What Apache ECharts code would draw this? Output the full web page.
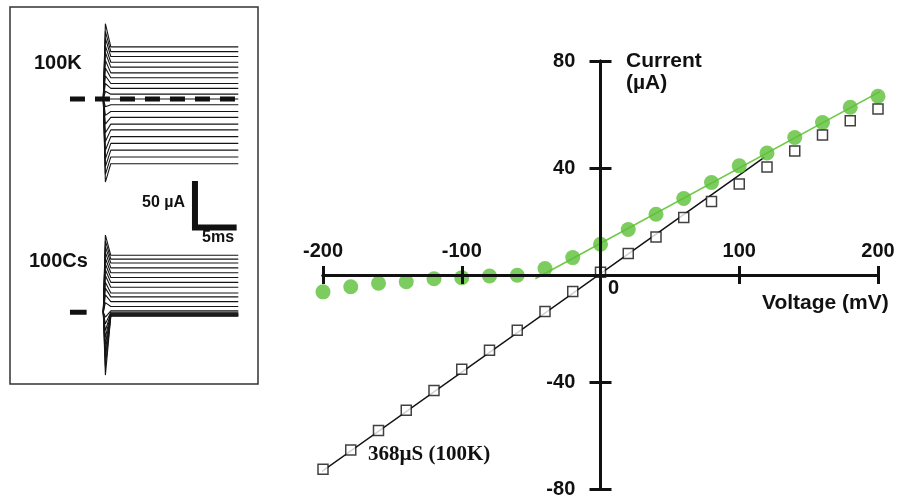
<!DOCTYPE html>
<html><head><meta charset="utf-8">
<script src="https://cdn.jsdelivr.net/npm/echarts@6/dist/echarts.min.js"></script>
<style>html,body{margin:0;padding:0;background:#fff}#c{width:919px;height:498px}</style>
</head><body><div id="c"></div>
<script>
// ---- I-V data (mV, uA) ----
const voltages = [-200,-180,-160,-140,-120,-100,-80,-60,-40,-20,0,20,40,60,80,100,120,140,160,180,200];
const currentK = [-72.6,-65.4,-58.1,-50.6,-43.2,-35.2,-28.1,-20.7,-13.6,-6.2,1.0,8.0,14.2,21.5,27.5,34.0,40.4,46.4,52.3,57.7,62.1];
const currentCs = [-6.3,-4.4,-3.1,-2.5,-1.4,-1.0,-0.4,-0.1,2.4,6.5,11.5,17.0,22.7,28.6,34.6,40.8,45.6,51.4,57.0,62.7,66.8];
// fit lines
const fitKVoltage = [-211, 118];
const fitKCurrent = [-77.2, 44.0];
const fitCsVoltage = [-47, 228];
const fitCsCurrent = [-1.4, 76.0];
// axis ticks and tick labels
const xTickValues = [-200, -100, 0, 100, 200];
const xTickLabels = ['-200', '-100', '100', '200'];
const yTickValues = [-80, -40, 0, 40, 80];
const yTickLabels = ['-80', '-40', '40', '80'];
// ---- inset current traces (ms, uA) ----
const traceTimes = [-0.2, 0.05, 0.7, 16];
const k100Levels = [54,49,44,38,33,27,22,16,11,5,0,-6,-13,-19,-26,-32,-39,-46,-53,-60,-67];
const k100Peaks  = [78,70,63,55,48,40,32,24,16,8,0,-8,-17,-26,-35,-44,-53,-62,-70,-78,-86];
const cs100Levels = [59,55,51,46,41,36,31,26,20,16,11,6,1.5,0,-1,-1.5,-2,-2.5,-3,-3.5,-4];
const cs100Peaks  = [80,74,68,62,56,50,44,38,31,25,18,10,-5,-12,-19,-26,-33,-40,-47,-56,-65];
const zeroLineTimes = [-4.2, 16];
const csMarkTimes = [-4.2, -2.2];
const scaleBarTimes = [10.8, 10.8, 15.8];
const scaleBarCurrents = [-85, -133, -133];

const zip = (a, b) => a.map((v, i) => [v, b[i]]);
const FONT = '"Liberation Sans", Arial, Helvetica, sans-serif';
const INK = '#111';

const mainAxisX = (pos) => ({
  gridIndex: 0, type: 'value', min: xTickValues[0], max: xTickValues[xTickValues.length-1],
  interval: xTickValues[1]-xTickValues[0], position: pos, z: 10,
  axisLine: {onZero: true, lineStyle: {color: INK, width: 3}},
  axisTick: {show: true, inside: false, length: 9, lineStyle: {color: INK, width: 3}},
  axisLabel: {show: false},
  splitLine: {show: false}
});
const mainAxisY = (pos) => ({
  gridIndex: 0, type: 'value', min: yTickValues[0], max: yTickValues[yTickValues.length-1],
  interval: yTickValues[1]-yTickValues[0], position: pos, z: 10,
  axisLine: {onZero: true, lineStyle: {color: INK, width: 3}},
  axisTick: {show: true, inside: false, length: 11, lineStyle: {color: INK, width: 3}},
  axisLabel: {show: false},
  splitLine: {show: false}
});
const labelStyle = {fontSize: 20, fontWeight: 'bold', fontFamily: FONT, color: INK, opacity: 1,
  textBorderWidth: 0, textShadowBlur: 0};

const series = [
  {type: 'line', xAxisIndex: 0, yAxisIndex: 0, data: zip(fitCsVoltage, fitCsCurrent), symbol: 'none', clip: false,
   lineStyle: {color: '#6fca47', width: 1.6}, z: 2, silent: true},
  {type: 'line', xAxisIndex: 0, yAxisIndex: 0, data: zip(fitKVoltage, fitKCurrent), symbol: 'none', clip: false,
   lineStyle: {color: INK, width: 1.5}, z: 3, silent: true},
  {type: 'scatter', xAxisIndex: 0, yAxisIndex: 0, data: zip(voltages, currentCs), symbol: 'circle', symbolSize: 15,
   itemStyle: {color: '#5cbf38'}, z: 4, clip: false},
  {type: 'scatter', xAxisIndex: 0, yAxisIndex: 0, data: zip(voltages, currentK), symbol: 'rect', symbolSize: 10,
   itemStyle: {color: '#fff', borderColor: INK, borderWidth: 1.5}, z: 5, clip: false},
  // tick labels of the crossing axes
  {type: 'scatter', xAxisIndex: 0, yAxisIndex: 0, silent: true, symbolSize: 0.5, itemStyle: {color: INK, opacity: 1}, z: 12,
   data: xTickLabels.map(s => ({value: [Number(s), 0], name: s})),
   label: Object.assign({show: true, position: 'top', distance: 13, formatter: p => p.name}, labelStyle)},
  {type: 'scatter', xAxisIndex: 0, yAxisIndex: 0, silent: true, symbolSize: 0.5, itemStyle: {color: INK, opacity: 1}, z: 12,
   data: yTickLabels.map(s => ({value: [0, Number(s)], name: s})),
   label: Object.assign({show: true, position: 'left', distance: 25, formatter: p => p.name}, labelStyle)}
];

const traceStyle = {color: '#151515', width: 1.1};
k100Levels.forEach((lv, i) => {
  series.push({type: 'line', xAxisIndex: 2, yAxisIndex: 2, symbol: 'none', silent: true, clip: false,
    data: [[traceTimes[0], 0], [traceTimes[1], k100Peaks[i]], [traceTimes[2], lv], [traceTimes[3], lv]],
    lineStyle: traceStyle});
});
cs100Levels.forEach((lv, i) => {
  series.push({type: 'line', xAxisIndex: 3, yAxisIndex: 3, symbol: 'none', silent: true, clip: false,
    data: [[traceTimes[0], 0], [traceTimes[1], cs100Peaks[i]], [traceTimes[2], lv], [traceTimes[3], lv]],
    lineStyle: traceStyle});
});
series.push({type: 'line', xAxisIndex: 2, yAxisIndex: 2, symbol: 'none', silent: true, clip: false,
  data: zeroLineTimes.map(t => [t, 0]), lineStyle: {color: INK, width: 5, type: [15, 10]}, z: 4});
series.push({type: 'line', xAxisIndex: 3, yAxisIndex: 3, symbol: 'none', silent: true, clip: false,
  data: csMarkTimes.map(t => [t, 0]), lineStyle: {color: INK, width: 5}, z: 4});
series.push({type: 'line', xAxisIndex: 2, yAxisIndex: 2, symbol: 'none', silent: true, clip: false,
  data: zip(scaleBarTimes, scaleBarCurrents), lineStyle: {color: INK, width: 6, join: 'miter', cap: 'butt'}, z: 4});

const txt = (text, x, y, size, extra) => ({type: 'text', x: x, y: y, z: 20,
  style: Object.assign({text: text, font: 'bold ' + size + 'px ' + FONT, fill: INK, verticalAlign: 'top'}, extra || {})});

const option = {
  animation: false,
  backgroundColor: '#fff',
  grid: [
    {left: 323, right: 41, top: 61, bottom: 9},
    {left: 68.3, top: 2.4, width: 170, height: 231.8},
    {left: 68.3, top: 215.7, width: 170, height: 193.2}
  ],
  xAxis: [
    mainAxisX('top'),
    mainAxisX('bottom'),
    {gridIndex: 1, type: 'value', min: -4.4, max: 16, show: false},
    {gridIndex: 2, type: 'value', min: -4.4, max: 16, show: false}
  ],
  yAxis: [
    mainAxisY('left'),
    mainAxisY('right'),
    {gridIndex: 1, type: 'value', min: -140, max: 100, show: false},
    {gridIndex: 2, type: 'value', min: -100, max: 100, show: false}
  ],
  series: series,
  graphic: [
    {type: 'rect', shape: {x: 10, y: 7, width: 248, height: 377}, style: {fill: 'none', stroke: '#333', lineWidth: 1.5}, z: 20},
    txt('100K', 34, 53, 20),
    txt('100Cs', 29, 251, 20),
    txt('50 \u00b5A', 142, 195, 16),
    txt('5ms', 202, 230, 16),
    txt('Current', 626, 51, 21),
    txt('(\u00b5A)', 626, 73, 21),
    txt('Voltage (mV)', 762, 293, 21),
    txt('0', 608, 278, 20),
    {type: 'text', x: 368, y: 444, z: 20,
     style: {text: '368\u00b5S (100K)', font: 'bold 21px "Liberation Serif", "Times New Roman", serif', fill: INK, verticalAlign: 'top'}}
  ]
};
const chart = echarts.init(document.getElementById('c'), null, {renderer: 'canvas'});
chart.setOption(option);
</script></body></html>
